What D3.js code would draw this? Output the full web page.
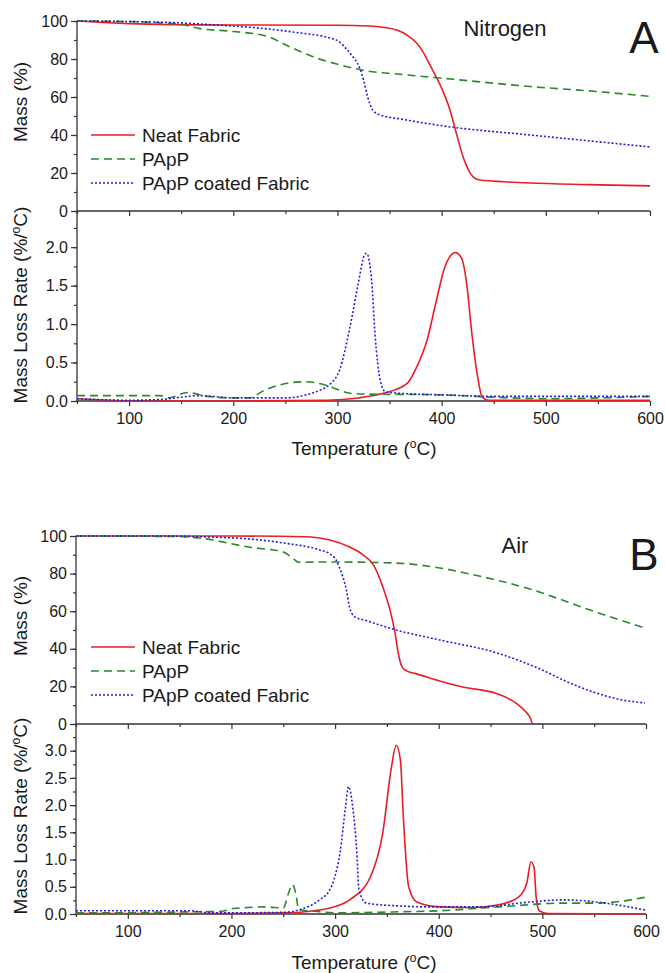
<!DOCTYPE html>
<html>
<head>
<meta charset="utf-8">
<script src="https://cdn.jsdelivr.net/npm/d3@7"></script>
<style>
  body { margin: 0; background: #fff; }
  text { font-family: "Liberation Sans", Arial, sans-serif; fill: #1a1a1a; }
</style>
</head>
<body>
<div id="chart"></div>
<script>
const seriesNames = ["Neat Fabric", "PApP", "PApP coated Fabric"];
const xTicks = [100, 200, 300, 400, 500, 600];
const massTicks = [0, 20, 40, 60, 80, 100];
const rateTicksA = [0.0, 0.5, 1.0, 1.5, 2.0];
const rateTicksB = [0.0, 0.5, 1.0, 1.5, 2.0, 2.5, 3.0];

// Panel A (nitrogen) - mass curves [T, mass %]
const n2MassNeat = [[50,100],[75,99.2],[100,98.6],[140,98.1],[200,97.9],[300,97.8],[330,97.4],[345,96.6],[357,95.2],[367,92.5],[376,88.4],[383,83],[389,76.6],[398,67],[408,53.2],[414,41.2],[420,29.5],[424,23.6],[427,20.3],[431,17.6],[437,16.3],[460,15.4],[485,14.7],[540,13.9],[600,13.2]];
const n2MassPApP = [[50,100],[100,99.7],[130,99],[152,98],[168,96],[200,94.5],[232,92],[254,86.5],[280,80.5],[302,77],[325,74],[360,72],[398,70],[440,67.8],[485,65.5],[540,63.3],[600,60.3]];
const n2MassCoated = [[50,100],[100,99.7],[150,99],[180,98],[220,96.5],[264,93.7],[293,91],[302,89],[309,85],[315,81],[319,78],[325,69],[329,60],[334,53],[341,50.5],[360,48.5],[405,44.5],[485,40],[540,37],[600,33.7]];
// Panel A - mass loss rate [T, %/°C]
const n2RateNeat = [[50,0.03],[80,0.01],[100,0],[200,0],[290,0.01],[320,0.04],[344,0.1],[367,0.23],[376,0.44],[386,0.79],[395,1.31],[403,1.74],[408,1.88],[413,1.93],[419,1.86],[424,1.53],[429,0.88],[434,0.36],[439,0.05],[445,0.01],[600,0.01]];
const n2RatePApP = [[50,0.07],[130,0.07],[138,0.04],[156,0.11],[175,0.06],[200,0.04],[215,0.04],[230,0.14],[245,0.21],[260,0.245],[270,0.25],[285,0.22],[302,0.14],[312,0.1],[331,0.09],[400,0.08],[450,0.05],[500,0.03],[550,0.04],[600,0.06]];
const n2RateCoated = [[50,0.03],[100,0.01],[130,0.02],[168,0.07],[200,0.04],[250,0.04],[270,0.08],[283,0.14],[293,0.22],[302,0.4],[312,0.96],[320,1.53],[326,1.9],[328,1.92],[333,1.53],[336,0.88],[341,0.27],[346,0.12],[360,0.1],[400,0.08],[450,0.06],[600,0.06]];

// Panel B (air) - mass curves
const airMassNeat = [[50,100],[200,100],[270,99.6],[295,97.9],[314,94.1],[327,90],[337,84.6],[346,73],[353,60.6],[358,48],[361,37.5],[365,30],[370,28],[378,26.8],[400,23],[423,19.7],[455,16.3],[475,11],[484,6.5],[488,3.7],[491,0],[500,0]];
const airMassPApP = [[50,100],[150,99.7],[169,98.9],[218,94],[250,91.5],[259,88.3],[265,86],[294,86.2],[359,85.6],[401,83],[439,78.7],[488,71.8],[546,60.6],[599,51]];
const airMassCoated = [[50,100],[120,100],[201,99],[250,96.3],[285,92.6],[295,90.5],[301,87.2],[304,83.5],[311,71],[314,62],[319,57],[330,55],[359,50],[401,44.7],[456,37.8],[500,28.7],[520,23.4],[552,16.5],[575,13],[599,11.2]];
// Panel B - mass loss rate
const airRateNeat = [[50,0.01],[200,0.01],[250,0.02],[280,0.06],[295,0.11],[314,0.26],[334,0.68],[346,1.49],[354,2.65],[359,3.1],[363,2.83],[366,1.73],[371,0.5],[379,0.22],[401,0.13],[431,0.12],[458,0.17],[477,0.31],[485,0.57],[489,0.96],[492,0.86],[494,0.31],[497,0.06],[505,0.01],[600,0.0]];
const airRatePApP = [[50,0.02],[190,0.05],[202,0.1],[234,0.13],[250,0.11],[255,0.38],[259,0.54],[262,0.38],[265,0.08],[280,0.05],[300,0.02],[360,0.04],[401,0.06],[458,0.13],[520,0.2],[552,0.2],[600,0.31]];
const airRateCoated = [[50,0.06],[160,0.06],[180,0.02],[250,0.03],[266,0.08],[285,0.26],[295,0.45],[300,0.7],[305,1.15],[310,1.95],[313,2.34],[317,1.97],[321,1.12],[323,0.45],[330,0.2],[360,0.15],[391,0.13],[440,0.13],[488,0.22],[520,0.26],[552,0.22],[600,0.07]];

const styles = [
    {color: "#ec1c24", dash: null},
    {color: "#2a8a2a", dash: "8,5"},
    {color: "#2020dd", dash: "2,2"}
];

const width = 665, height = 973;
const svg = d3.select("#chart").append("svg")
    .attr("width", width)
    .attr("height", height);

const line = (x, y) => d3.line()
    .x(d => x(d[0]))
    .y(d => y(d[1]))
    .curve(d3.curveMonotoneX);

function drawPanel(p, idx) {
    const g = svg.append("g");
    const x = d3.scaleLinear().domain([50, 600]).range([p.x0, p.x1]);
    const yMass = d3.scaleLinear().domain([0, 100]).range([p.mid, p.top]);
    const yRate = d3.scaleLinear().domain([0, p.rateMax]).range([p.bottom, p.mid]);

    // clip paths
    const clipTop = "clipTop" + idx, clipBot = "clipBot" + idx;
    g.append("clipPath").attr("id", clipTop).append("rect")
        .attr("x", p.x0).attr("y", p.top - 5).attr("width", p.x1 - p.x0 + 2).attr("height", p.mid - p.top + 5);
    g.append("clipPath").attr("id", clipBot).append("rect")
        .attr("x", p.x0).attr("y", p.mid + 1).attr("width", p.x1 - p.x0 + 2).attr("height", p.bottom - p.mid);

    // left axes
    const massMinor = d3.range(0, 101, 10);
    g.append("g").attr("transform", `translate(${p.x0},0)`)
        .call(d3.axisLeft(yMass).tickValues(massMinor).tickSize(3).tickFormat(""))
        .call(a => a.select(".domain").remove());
    g.append("g").attr("transform", `translate(${p.x0},0)`)
        .call(d3.axisLeft(yMass).tickValues(massTicks).tickSize(6).tickPadding(3))
        .call(a => a.select(".domain").remove());

    const rateMinor = d3.range(0, p.rateMax, 0.25);
    g.append("g").attr("transform", `translate(${p.x0},0)`)
        .call(d3.axisLeft(yRate).tickValues(rateMinor).tickSize(3).tickFormat(""))
        .call(a => a.select(".domain").remove());
    g.append("g").attr("transform", `translate(${p.x0},0)`)
        .call(d3.axisLeft(yRate).tickValues(p.rateTicks).tickSize(6).tickPadding(3).tickFormat(d3.format(".1f")))
        .call(a => a.select(".domain").remove());

    // x axes: shared middle line and bottom line
    const xMinor = d3.range(50, 601, 100);
    [p.mid, p.bottom].forEach((yy, k) => {
        g.append("g").attr("transform", `translate(0,${yy})`)
            .call(d3.axisBottom(x).tickValues(xMinor).tickSize(3).tickFormat(""))
            .call(a => a.select(".domain").remove());
        g.append("g").attr("transform", `translate(0,${yy})`)
            .call(d3.axisBottom(x).tickValues(xTicks).tickSize(5).tickPadding(7).tickFormat(k === 1 ? d3.format("d") : ""))
            .call(a => a.select(".domain").remove());
        g.append("line")
            .attr("x1", p.x0).attr("x2", p.x1).attr("y1", yy).attr("y2", yy)
            .attr("stroke", "#333").attr("stroke-width", 1.3);
    });
    g.append("line")
        .attr("x1", p.x0).attr("x2", p.x0).attr("y1", p.top).attr("y2", p.bottom)
        .attr("stroke", "#333").attr("stroke-width", 1.3);

    g.selectAll(".tick line").attr("stroke", "#333").attr("stroke-width", 1.2);
    g.selectAll(".tick text").attr("font-size", 16).style("fill", "#1a1a1a");

    // curves
    p.mass.forEach((data, i) => {
        g.append("path")
            .attr("clip-path", `url(#${clipTop})`)
            .attr("d", line(x, yMass)(data))
            .attr("fill", "none")
            .attr("stroke", styles[i].color)
            .attr("stroke-width", 1.6)
            .attr("stroke-dasharray", styles[i].dash);
    });
    p.rate.forEach((data, i) => {
        g.append("path")
            .attr("clip-path", `url(#${clipBot})`)
            .attr("d", line(x, yRate)(data))
            .attr("fill", "none")
            .attr("stroke", styles[i].color)
            .attr("stroke-width", 1.6)
            .attr("stroke-dasharray", styles[i].dash);
    });

    // legend
    seriesNames.forEach((name, i) => {
        const yy = p.legendY + i * 24;
        g.append("line")
            .attr("x1", 91).attr("x2", 135).attr("y1", yy).attr("y2", yy)
            .attr("stroke", styles[i].color)
            .attr("stroke-width", 1.6)
            .attr("stroke-dasharray", styles[i].dash);
        g.append("text")
            .attr("x", 142).attr("y", yy).attr("dy", "0.36em")
            .attr("font-size", 19)
            .text(name);
    });

    // axis titles
    g.append("text")
        .attr("transform", `translate(27,${p.massTitleY}) rotate(-90)`)
        .attr("text-anchor", "middle")
        .attr("font-size", 19)
        .text("Mass (%)");

    const rt = g.append("text")
        .attr("transform", `translate(27,${p.rateTitleY}) rotate(-90)`)
        .attr("text-anchor", "middle")
        .attr("font-size", 19);
    rt.append("tspan").text("Mass Loss Rate (%/");
    rt.append("tspan").attr("dy", -7).attr("font-size", 12).text("o");
    rt.append("tspan").attr("dy", 7).text("C)");

    const xt = g.append("text")
        .attr("x", 364).attr("y", p.xTitleY)
        .attr("text-anchor", "middle")
        .attr("font-size", 19);
    xt.append("tspan").text("Temperature (");
    xt.append("tspan").attr("dy", -7).attr("font-size", 12).text("o");
    xt.append("tspan").attr("dy", 7).text("C)");

    // atmosphere + panel letter
    g.append("text")
        .attr("x", p.gasX).attr("y", p.gasY)
        .attr("text-anchor", "middle")
        .attr("font-size", 22)
        .text(p.gas);
    g.append("text")
        .attr("x", 644).attr("y", p.letterY)
        .attr("text-anchor", "middle")
        .attr("font-size", 44)
        .text(p.letter);
}

const panels = [
    {
        x0: 77, x1: 650, top: 21, mid: 211, bottom: 401, rateMax: 2.47,
        rateTicks: rateTicksA,
        mass: [n2MassNeat, n2MassPApP, n2MassCoated],
        rate: [n2RateNeat, n2RatePApP, n2RateCoated],
        legendY: 135, massTitleY: 102, rateTitleY: 305, xTitleY: 455,
        gas: "Nitrogen", gasX: 505, gasY: 36, letter: "A", letterY: 53
    },
    {
        x0: 76, x1: 646, top: 536, mid: 724, bottom: 914, rateMax: 3.49,
        rateTicks: rateTicksB,
        mass: [airMassNeat, airMassPApP, airMassCoated],
        rate: [airRateNeat, airRatePApP, airRateCoated],
        legendY: 647, massTitleY: 616, rateTitleY: 816, xTitleY: 969,
        gas: "Air", gasX: 515, gasY: 553, letter: "B", letterY: 570
    }
];

panels.forEach(drawPanel);
</script>
</body>
</html>
